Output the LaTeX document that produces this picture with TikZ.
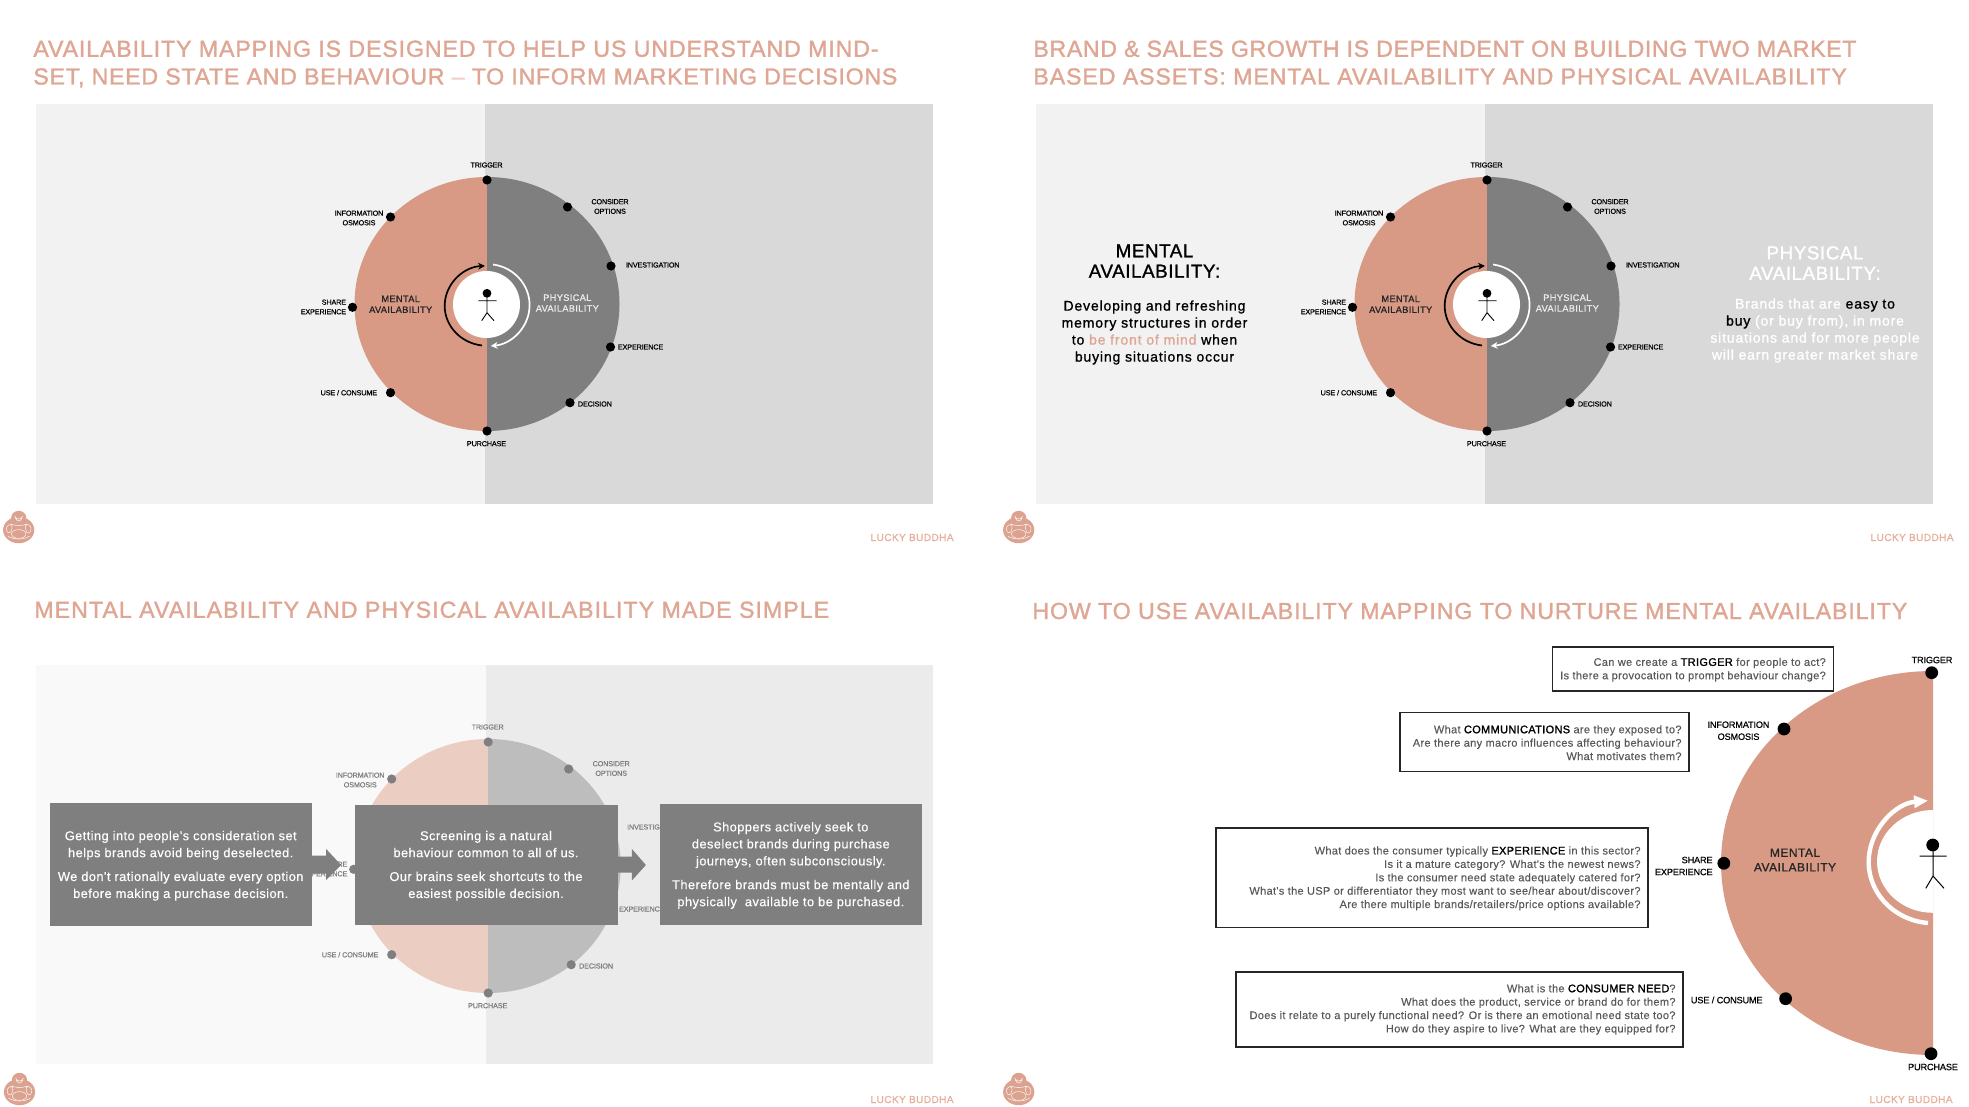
\documentclass[tikz,border=0pt]{standalone}
\usepackage{fontspec}
\usetikzlibrary{arrows.meta}
\setmainfont{Liberation Sans}
\newfontfamily\ttlfont[LetterSpace=3.7,FakeBold=1.4]{Liberation Sans}
\newfontfamily\ttlfontb[LetterSpace=3.0,FakeBold=1.4]{Liberation Sans}
\newfontfamily\ttlfontc[LetterSpace=2.6,FakeBold=1.4]{Liberation Sans}
\newfontfamily\ttlfontd[LetterSpace=4.35,FakeBold=1.4]{Liberation Sans}
\newfontfamily\lblfont[LetterSpace=-2,FakeBold=0.5]{Liberation Sans}
\newfontfamily\midfont[LetterSpace=4,FakeBold=1]{Liberation Sans}
\newfontfamily\bodfont[LetterSpace=3.5,FakeBold=0.3]{Liberation Sans}
\newfontfamily\footfont[LetterSpace=3,FakeBold=0.7]{Liberation Sans}
\newfontfamily\medfont[LetterSpace=3,FakeBold=1.2]{Liberation Sans}
\newfontfamily\sidefont[LetterSpace=6,FakeBold=1]{Liberation Sans}
\newfontfamily\qfont[LetterSpace=3,FakeBold=0.2]{Liberation Sans}
\newfontfamily\qbfont[LetterSpace=3,FakeBold=1.4]{Liberation Sans}
\definecolor{salmon}{HTML}{D89A85}
\definecolor{ttlc}{HTML}{DFA693}
\definecolor{footc}{HTML}{E6AF9C}
\definecolor{wgray}{HTML}{7F7F7F}
\definecolor{qtext}{HTML}{595959}
\colorlet{wleft}{salmon}
\colorlet{wright}{wgray}
\colorlet{wink}{black}
\newcommand{\qb}[1]{{\qbfont\color{black}#1}}
\newcommand{\dropa}{\rule{0pt}{5.9pt}}
\newcommand{\dropb}{\rule{0pt}{5.6pt}}
\newcommand{\dropc}{\rule{0pt}{4.7pt}}
\tikzset{
  x=0.5pt,y=-0.5pt,
  wdot/.style={circle,fill=wink,inner sep=0pt,minimum size=4.6pt},
  wlbl/.style={inner sep=0pt,text=wink,font=\lblfont\fontsize{3.62}{4.8}\selectfont,align=center},
  wmid/.style={inner sep=0pt,font=\midfont\fontsize{4.6}{5.4}\selectfont,align=center},
  ttl/.style={inner sep=0pt,anchor=base west,text=ttlc,font=\fontsize{11.6}{13}\selectfont},
  foot/.style={inner sep=0pt,anchor=base east,text=footc,font=\footfont\fontsize{5.1}{6}\selectfont},
  graybox/.style={rectangle,fill=wgray,text=white,inner sep=0pt,align=center,
    font=\bodfont\fontsize{6.4}{8.5}\selectfont},
  qbox/.style={rectangle,draw=black!85,line width=0.75pt,fill=white,inner xsep=3.75pt,inner ysep=0pt,
    align=flush right,text=qtext,font=\qfont\fontsize{5.5}{6.7}\selectfont},
  qlbl/.style={inner sep=0pt,text=black,font=\lblfont\fontsize{4.6}{6}\selectfont,align=center},
  sidehead/.style={inner sep=0pt,font=\medfont\fontsize{9.4}{10.2}\selectfont,align=center},
  sidebody/.style={inner sep=0pt,font=\sidefont\fontsize{7}{8.5}\selectfont,align=center},
  wheelbase/.pic={
    \fill[wleft] (0.5,-127) arc[start angle=90,end angle=270,x radius=66.25pt,y radius=63.5pt] -- cycle;
    \fill[wright] (0.5,-127) arc[start angle=90,end angle=-90,x radius=66.25pt,y radius=63.5pt] -- cycle;
    \node[wdot] (trig) at (0.5,-124) {};
    \node[wdot] (cons) at (81,-97) {};
    \node[wdot] (inve) at (124.5,-38) {};
    \node[wdot] (expe) at (124,43) {};
    \node[wdot] (deci) at (83.5,98.7) {};
    \node[wdot] (purc) at (0.5,127) {};
    \node[wdot] (usec) at (-96,88.7) {};
    \node[wdot] (shar) at (-134,3.3) {};
    \node[wdot] (info) at (-96,-87) {};
    \node[wlbl] (ltrig) at (0,-139) {TRIGGER};
    \node[wlbl] (lcons) at (123.5,-97.5) {CONSIDER\\OPTIONS};
    \node[wlbl,anchor=west] (linve) at (139,-39) {INVESTIGATION};
    \node[wlbl,anchor=west] (lexpe) at (131,43) {EXPERIENCE};
    \node[wlbl,anchor=west] (ldeci) at (91,100) {DECISION};
    \node[wlbl] (lpurc) at (0,139.7) {PURCHASE};
    \node[wlbl,anchor=east] (lusec) at (-109,88.7) {USE / CONSUME};
    \node[wlbl,anchor=east,align=right] (lshar) at (-140,3) {SHARE\\EXPERIENCE};
    \node[wlbl] (linfo) at (-127.5,-86) {INFORMATION\\OSMOSIS};
  },
  wheelcore/.pic={
    \fill[white] (0,0.5) ellipse[x radius=16.75pt,y radius=16.75pt];
    \draw[black,line width=0.85pt,-{Stealth[length=3.4pt,width=3.4pt]}]
      (-4.5,41.5) arc[start angle=263,end angle=93,x radius=21.25pt,y radius=20pt];
    \draw[white,line width=0.85pt,-{Stealth[length=3.4pt,width=3.4pt]}]
      (6.5,-39.5) arc[start angle=82,end angle=-85,x radius=21.25pt,y radius=20.5pt];
    \fill[black] (0.5,-10.7) circle[radius=2.2pt];
    \draw[black,line width=0.45pt] (-8.2,-3.3) -- (10.2,-3.3)
      (0.5,-8) -- (0.5,8.7) (-4.8,16.7) -- (0.5,8.7) -- (7.5,16.7);
    \node[wmid,text=black!85] (mtxt) at (-85.8,0.3) {MENTAL\\AVAILABILITY};
    \node[wmid,text=white!92!black] (ptxt) at (80.8,-1) {PHYSICAL\\AVAILABILITY};
  },
  buddha/.pic={
    \fill[salmon!92!white] (0,3) ellipse[x radius=7.8pt,y radius=6.6pt];
    \fill[salmon!92!white] (0,-9) ellipse[x radius=3.8pt,y radius=3.6pt];
    \draw[white!85!salmon,line width=0.28pt]
      (-4,-11) .. controls (-2,-7) and (2,-7) .. (4,-11)
      (-3.5,-9) .. controls (-1,-5) and (1,-5) .. (3.5,-9)
      (-8,-3) .. controls (-4,-1) and (4,-1) .. (8,-3)
      (-12,0) .. controls (-7,-6) and (-5,0) .. (-8,5) .. controls (-11,8) and (-13,3) .. (-12,0)
      (12,0) .. controls (7,-6) and (5,0) .. (8,5) .. controls (11,8) and (13,3) .. (12,0)
      (-11,9) .. controls (-5,13) and (5,13) .. (11,9);
    \draw[white!85!salmon,line width=0.28pt] (0,7) ellipse[x radius=3.6pt,y radius=2.2pt];
  }
}
\begin{document}
\begin{tikzpicture}
\useasboundingbox (0,0) rectangle (1969,1107);
%% ---- panel 1
\node[ttl] (t1a) at (33,56.8) {\ttlfont AVAILABILITY MAPPING IS DESIGNED TO HELP US UNDERSTAND MIND-};
\node[ttl] (t1b) at (33,84.5) {\ttlfontb SET, NEED STATE AND BEHAVIOUR {\color{ttlc!50!white}–} TO INFORM MARKETING DECISIONS};
\fill[black!5] (36,104) rectangle (485,504);
\fill[black!15] (485,104) rectangle (933,504);
\pic (pa) at (486.5,304) {wheelbase};
\pic (pb) at (486.5,304) {wheelcore};
\pic (la) at (18.7,527) {buddha};
\node[foot] (fa) at (954,541) {LUCKY BUDDHA};
%% ---- panel 2
\node[ttl] (t2a) at (1033,56.8) {\ttlfontc BRAND \& SALES GROWTH IS DEPENDENT ON BUILDING TWO MARKET};
\node[ttl] (t2b) at (1033,84.5) {\ttlfont BASED ASSETS: MENTAL AVAILABILITY AND PHYSICAL AVAILABILITY};
\fill[black!5] (1036,104) rectangle (1485,504);
\fill[black!15] (1485,104) rectangle (1933,504);
\pic (pc) at (1486.5,304) {wheelbase};
\pic (pd) at (1486.5,304) {wheelcore};
\node[sidehead,text=black] (ma) at (1154.5,261) {MENTAL\\AVAILABILITY:};
\node[sidebody,text=black] (mb) at (1154.5,332.5) {Developing and refreshing\\memory structures in order\\to {\color{ttlc}be front of mind} when\\buying situations occur};
\node[sidehead,text=white] (pa2) at (1815,263) {PHYSICAL\\AVAILABILITY:};
\node[sidebody,text=white] (pb2) at (1815,330.5) {Brands that are {\color{black}easy to}\\{\color{black}buy} (or buy from), in more\\situations and for more people\\will earn greater market share};
\pic (lb) at (1018.7,527) {buddha};
\node[foot] (fb) at (1954,541) {LUCKY BUDDHA};
%% ---- panel 3
\node[ttl] (t3a) at (34,617.8) {\ttlfontd MENTAL AVAILABILITY AND PHYSICAL AVAILABILITY MADE SIMPLE};
\fill[black!2.5] (36,665) rectangle (485.5,1064);
\fill[black!8] (485.5,665) rectangle (933,1064);
\begin{scope}
\colorlet{wleft}{salmon!50!white}
\colorlet{wright}{black!26}
\colorlet{wink}{wgray}
\pic (pe) at (487.7,866) {wheelbase};
\end{scope}
\node[graybox,minimum width=131pt,minimum height=61.5pt] (ba) at (180.7,864.5) {\dropa Getting into people's consideration set\\helps brands avoid being deselected.\\[3.4pt]We don't rationally evaluate every option\\before making a purchase decision.};
\node[graybox,minimum width=131.5pt,minimum height=60pt] (bb) at (486,864.5) {\dropa Screening is a natural\\behaviour common to all of us.\\[3.4pt]Our brains seek shortcuts to the\\easiest possible decision.};
\node[graybox,minimum width=131pt,minimum height=60.5pt] (bc) at (790.8,864.5) {\dropb Shoppers actively seek to\\deselect brands during purchase\\journeys, often subconsciously.\\[3.4pt]Therefore brands must be mentally and\\physically\ \ available to be purchased.};
\fill[wgray] ([shift={(0,-9)}]ba.east) -- ([shift={(14,-9)}]ba.east) -- ([shift={(14,-15.5)}]ba.east)
  -- ([shift={(29,0.5)}]ba.east) -- ([shift={(14,15.5)}]ba.east) -- ([shift={(14,9)}]ba.east) -- ([shift={(0,9)}]ba.east) -- cycle;
\fill[wgray] ([shift={(0,-8)}]bb.east) -- ([shift={(14,-8)}]bb.east) -- ([shift={(14,-15.5)}]bb.east)
  -- ([shift={(28,0.5)}]bb.east) -- ([shift={(14,16)}]bb.east) -- ([shift={(14,8)}]bb.east) -- ([shift={(0,8)}]bb.east) -- cycle;
\pic (lc) at (19.5,1089) {buddha};
\node[foot] (fc) at (954,1103) {LUCKY BUDDHA};
%% ---- panel 4
\node[ttl] (t4a) at (1032,619) {\ttlfont HOW TO USE AVAILABILITY MAPPING TO NURTURE MENTAL AVAILABILITY};
\fill[salmon] (1933,671) arc[start angle=90,end angle=270,x radius=106pt,y radius=96pt] -- cycle;
\fill[white] (1933,810) arc[start angle=90,end angle=270,x radius=28pt,y radius=25.7pt] -- cycle;
\draw[white,line width=2.2pt,-{Stealth[length=7pt,width=6pt,inset=0pt]}]
  (1928,923) arc[start angle=265,end angle=95,x radius=32.5pt,y radius=30.7pt];
\fill[black] (1932.7,845) circle[radius=3.2pt];
\draw[black,line width=0.5pt] (1919.5,856) -- (1946.5,856) (1933,850) -- (1933,876) (1925.8,888.3) -- (1933,876) -- (1944,888.3);
\node[inner sep=0pt,font=\midfont\fontsize{6}{7.3}\selectfont,align=center,text=black!85] (mm) at (1795,860) {MENTAL\\AVAILABILITY};
\tikzset{wdot/.append style={minimum size=6.4pt,fill=black}}
\node[wdot] (d1) at (1931.7,672.7) {};
\node[wdot] (d2) at (1784,729) {};
\node[wdot] (d3) at (1723.8,863.3) {};
\node[wdot] (d4) at (1785.6,998.7) {};
\node[wdot] (d5) at (1931,1053.7) {};
\node[qlbl] (l1) at (1932,660) {TRIGGER};
\node[qlbl] (l2) at (1738.5,730.7) {INFORMATION\\OSMOSIS};
\node[qlbl,anchor=east,align=right] (l3) at (1713,866) {SHARE\\EXPERIENCE};
\node[qlbl,anchor=east] (l4) at (1763,1000) {USE / CONSUME};
\node[qlbl] (l5) at (1933,1067) {PURCHASE};
\node[qbox,text width=132.8pt,minimum height=22.2pt] (q1) at (1693,669) {\dropc Can we create a \qb{TRIGGER} for people to act?\\Is there a provocation to prompt behaviour change?};
\node[qbox,text width=137pt,minimum height=29.7pt] (q2) at (1544.5,742) {\dropc What \qb{COMMUNICATIONS} are they exposed to?\\Are there any macro influences affecting behaviour?\\What motivates them?};
\node[qbox,text width=208.5pt,minimum height=49.6pt] (q3) at (1432,877.7) {\dropc What does the consumer typically \qb{EXPERIENCE} in this sector?\\Is it a mature category? What's the newest news?\\Is the consumer need state adequately catered for?\\What's the USP or differentiator they most want to see/hear about/discover?\\Are there multiple brands/retailers/price options available?};
\node[qbox,text width=216.1pt,minimum height=37.5pt] (q4) at (1459.4,1009.5) {What is the \qb{CONSUMER NEED}?\\What does the product, service or brand do for them?\\Does it relate to a purely functional need? Or is there an emotional need state too?\\How do they aspire to live? What are they equipped for?};
\pic (ld) at (1018.7,1089) {buddha};
\node[foot] (fd) at (1953,1103) {LUCKY BUDDHA};
\end{tikzpicture}
\end{document}
